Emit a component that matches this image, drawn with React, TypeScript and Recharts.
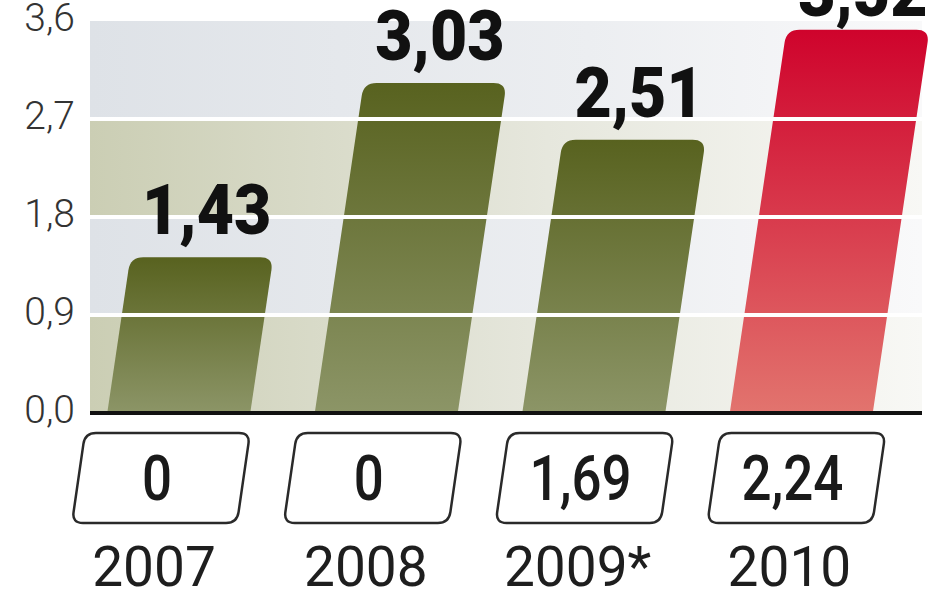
import { BarChart, Bar, XAxis, YAxis, CartesianGrid, ReferenceLine, LabelList } from 'recharts';

// values
const years = ['2007', '2008', '2009*', '2010'];
const totals = [1.43, 3.03, 2.51, 3.52];
const boxed = [0, 0, 1.69, 2.24];
const highlight = [false, false, false, true];
const yTicks = [0, 0.9, 1.8, 2.7, 3.6];
const gridLines = [0.9, 1.8, 2.7];

const data = years.map((year, idx) => ({
  idx,
  year,
  total: totals[idx],
  boxed: boxed[idx],
  hot: highlight[idx],
}));

const SLANT = 0.148;
const FONT = 'Roboto, "Noto Sans", sans-serif';
const comma = (v: number) => String(v).replace('.', ',');

type Pt = [number, number];

function roundedPath(pts: Pt[], radii: number[]) {
  const n = pts.length;
  const toward = (a: Pt, b: Pt, dist: number): Pt => {
    const dx = b[0] - a[0];
    const dy = b[1] - a[1];
    const len = Math.hypot(dx, dy) || 1;
    return [a[0] + (dx / len) * dist, a[1] + (dy / len) * dist];
  };
  let d = '';
  for (let i = 0; i < n; i++) {
    const p = pts[i];
    const a = toward(p, pts[(i - 1 + n) % n], radii[i]);
    const b = toward(p, pts[(i + 1) % n], radii[i]);
    d += `${i === 0 ? 'M' : 'L'}${a[0]},${a[1]} Q${p[0]},${p[1]} ${b[0]},${b[1]} `;
  }
  return d + 'Z';
}

function SlantBar(props: any) {
  const { x, y, width, height, payload } = props;
  if (height == null || height <= 0) return null;
  const s = SLANT * height;
  const pts: Pt[] = [
    [x + s, y],
    [x + width + s, y],
    [x + width, y + height],
    [x, y + height],
  ];
  return <path d={roundedPath(pts, [13, 13, 0, 0])} fill={payload.hot ? 'url(#redBar)' : 'url(#oliveBar)'} />;
}

function TopLabel(props: any) {
  const { x, y, width, height, value } = props;
  const right = x + width + SLANT * height - 2;
  const base = Math.max(y - 23, 16);
  return (
    <text
      transform={`translate(${right},${base}) scale(0.92,1)`}
      textAnchor="end"
      fontFamily={FONT}
      fontWeight={900}
      fontSize={70}
      fill="#111"
    >
      {comma(value)}
    </text>
  );
}

function YTick({ x, y, payload }: any) {
  return (
    <text x={x} y={y} dy={10} textAnchor="end" fontFamily={FONT} fontWeight={300} fontSize={39} fill="#333">
      {payload.value.toFixed(1).replace('.', ',')}
    </text>
  );
}

function YearTick({ x, y, payload }: any) {
  const i = payload.value as number;
  const d = data[i];
  if (!d) return null;
  const cx = x - 18 + i * 4.3;
  const top = y + 20;
  const bottom = y + 110;
  const half = 82.5;
  const s = 6.5;
  const pts: Pt[] = [
    [cx - half + s, top],
    [cx + half + s, top],
    [cx + half - s, bottom],
    [cx - half - s, bottom],
  ];
  return (
    <g>
      <path d={roundedPath(pts, [11, 11, 11, 11])} fill="#fff" stroke="#2a2a2a" strokeWidth={2.5} />
      <text
        transform={`translate(${cx - 4},${y + 87}) scale(0.84,1)`}
        textAnchor="middle"
        fontFamily={FONT}
        fontWeight={500}
        fontSize={63}
        fill="#1a1a1a"
      >
        {comma(d.boxed)}
      </text>
      <text x={cx - 7} y={y + 173} textAnchor="middle" fontFamily={FONT} fontWeight={400} fontSize={55} fill="#1e1e1e">
        {d.year}
      </text>
    </g>
  );
}

export default function App() {
  return (
    <div style={{ position: 'absolute', left: 0, top: 0, background: '#fff' }}>
      <BarChart width={948} height={593} data={data} margin={{ top: 21, right: 26, bottom: 0, left: 0 }}>
        <defs>
          <linearGradient id="oliveBar" x1="0" y1="0" x2="0" y2="1">
            <stop offset="0%" stopColor="#58621f" />
            <stop offset="100%" stopColor="#8c9567" />
          </linearGradient>
          <linearGradient id="redBar" x1="0" y1="0" x2="0" y2="1">
            <stop offset="0%" stopColor="#cf032c" />
            <stop offset="100%" stopColor="#e2746e" />
          </linearGradient>
          <linearGradient id="bandBlue" x1="0" y1="0" x2="1" y2="0">
            <stop offset="0%" stopColor="#dee2e7" />
            <stop offset="60%" stopColor="#eceef1" />
            <stop offset="100%" stopColor="#f9f9fa" />
          </linearGradient>
          <linearGradient id="bandOlive" x1="0" y1="0" x2="1" y2="0">
            <stop offset="0%" stopColor="#cbceb4" />
            <stop offset="55%" stopColor="#e6e7dd" />
            <stop offset="100%" stopColor="#f8f8f5" />
          </linearGradient>
        </defs>
        <CartesianGrid
          vertical={false}
          stroke="none"
          horizontalFill={['url(#bandBlue)', 'url(#bandOlive)']}
          fillOpacity={1}
        />
        <XAxis
          dataKey="idx"
          type="number"
          domain={[-0.4289, 3.5807]}
          ticks={[0, 1, 2, 3]}
          interval={0}
          height={180}
          tickLine={false}
          tickSize={0}
          tickMargin={0}
          axisLine={{ stroke: '#111', strokeWidth: 4 }}
          tick={<YearTick />}
        />
        <YAxis
          domain={[0, 3.6]}
          ticks={yTicks}
          width={90}
          axisLine={false}
          tickLine={false}
          tickSize={0}
          tickMargin={15}
          tick={<YTick />}
          interval={0}
        />
        <Bar dataKey="total" barSize={143} shape={<SlantBar />} isAnimationActive={false}>
          <LabelList dataKey="total" content={<TopLabel />} />
        </Bar>
        {gridLines.map(v => (
          <ReferenceLine key={v} y={v} stroke="#fff" strokeWidth={4} />
        ))}
      </BarChart>
    </div>
  );
}
